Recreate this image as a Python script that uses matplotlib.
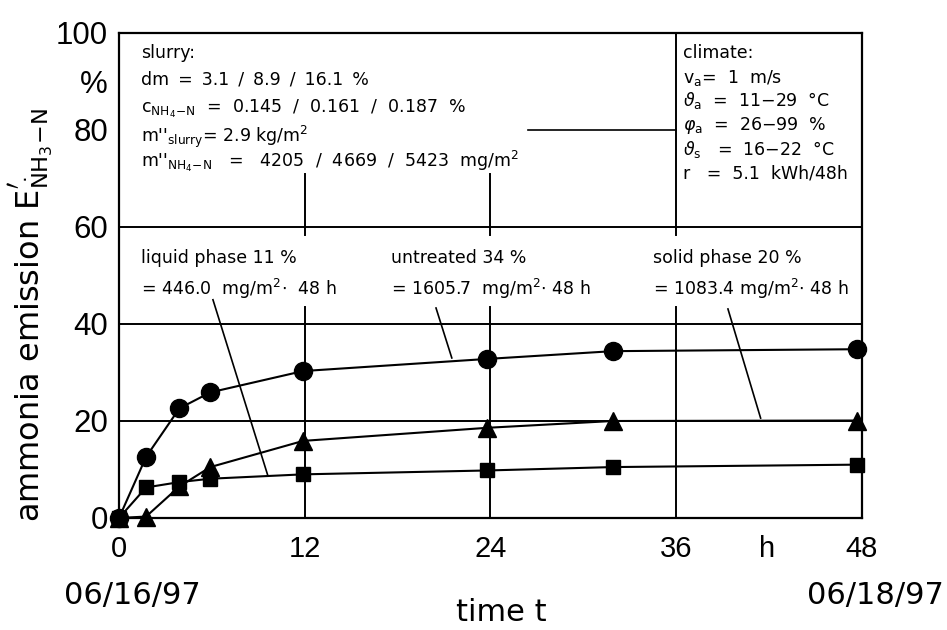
import matplotlib
matplotlib.use('Agg')
import matplotlib.pyplot as plt
from matplotlib.transforms import blended_transform_factory

# ---- data ----
hours = [0, 1.75, 3.9, 5.9, 11.9, 23.8, 31.9, 47.7]
untreated = [0, 12.6, 22.6, 25.9, 30.3, 32.8, 34.4, 34.8]
liquid = [0, 6.3, 7.4, 8.1, 9.0, 9.8, 10.5, 11.0]
solid = [0, 0.3, 6.5, 10.5, 15.9, 18.6, 20.0, 20.1]

x_ticks = [0, 12, 24, 36, 41.85, 48]
x_ticklabels = ['0', '12', '24', '36', 'h', '48']
y_ticks = [0, 20, 40, 60, 80, 90, 100]
y_ticklabels = ['0', '20', '40', '60', '80', '%', '100']

G = " \u2009"  # medium gap used in the reference typesetting
slurry_lines = [
    "slurry:",
    "dm" + G + "=" + G + "3.1" + G + "/" + G + "8.9" + G + "/" + G + "16.1" + G + "%",
    r"c$_{\mathrm{NH_4\!-\!N}}$  =  0.145  /  0.161  /  0.187  %",
    r"m''$_{\mathrm{slurry}}$= 2.9 kg/m$^2$",
    r"m''$_{\mathrm{NH_4\!-\!N}}$   =   4205  /  4669  /  5423  mg/m$^2$",
]
slurry_y = [94.8, 89.3, 83.5, 77.5, 72.4]

climate_lines = [
    "climate:",
    r"v$_{\mathrm{a}}$=  1  m/s",
    r"$\vartheta_{\mathrm{a}}$  =  11−29  °C",
    r"$\varphi_{\mathrm{a}}$  =  26−99  %",
    r"$\vartheta_{\mathrm{s}}$   =  16−22  °C",
    "r   =  5.1  kWh/48h",
]
climate_y = [94.8, 89.7, 85.0, 80.0, 74.8, 70.1]

phase_names = ["liquid phase 11 %", "untreated 34 %", "solid phase 20 %"]
phase_values = [r"= 446.0  mg/m$^2$$\cdot$  48 h",
                r"= 1605.7  mg/m$^2$$\cdot$ 48 h",
                r"= 1083.4 mg/m$^2$$\cdot$ 48 h"]
phase_x = [1.4, 17.6, 34.5]

plt.rcParams['font.family'] = ['DejaVu Sans']
plt.rcParams['mathtext.fontset'] = 'dejavusans'

fig = plt.figure(figsize=(9.47, 6.30), dpi=100)
ax = fig.add_axes([0.12566, 0.17778, 0.78458, 0.76984])
ax.set_xlim(0, 48)
ax.set_ylim(0, 100)

lw_frame = 1.6
for s in ax.spines.values():
    s.set_linewidth(lw_frame)
    s.set_color('black')

# horizontal full lines
for yv in [20, 40, 60]:
    ax.plot([0, 48], [yv, yv], color='black', lw=1.4, zorder=1)
# vertical partial lines
for xv in [12, 24]:
    ax.plot([xv, xv], [0, 43.5], color='black', lw=1.4, zorder=1)
    ax.plot([xv, xv], [58.3, 71.0], color='black', lw=1.4, zorder=1)
ax.plot([36, 36], [0, 43.5], color='black', lw=1.4, zorder=1)
ax.plot([36, 36], [58.3, 100], color='black', lw=1.4, zorder=1)
ax.plot([26.4, 36], [80, 80], color='black', lw=1.2, zorder=1)

# pointer lines
ax.plot([6.07, 9.6], [45.0, 8.9], color='black', lw=1.2, zorder=1)
ax.plot([20.48, 21.5], [43.3, 33.0], color='black', lw=1.2, zorder=1)
ax.plot([39.34, 41.45], [43.1, 20.6], color='black', lw=1.2, zorder=1)

# data series
ax.plot(hours, untreated, color='black', lw=1.5, marker='o', ms=13, clip_on=False, zorder=3)
ax.plot(hours, solid, color='black', lw=1.5, marker='^', ms=13, clip_on=False, zorder=3)
ax.plot(hours, liquid, color='black', lw=1.5, marker='s', ms=9.5, clip_on=False, zorder=3)

# texts
fs_box = 12.5
for t, yv in zip(slurry_lines, slurry_y):
    ax.text(1.45, yv, t, fontsize=fs_box, va='baseline', ha='left')
for t, yv in zip(climate_lines, climate_y):
    ax.text(36.45, yv, t, fontsize=fs_box, va='baseline', ha='left')
for n, v, xv in zip(phase_names, phase_values, phase_x):
    ax.text(xv, 52.6, n, fontsize=fs_box, va='baseline', ha='left')
    ax.text(xv, 46.0, v, fontsize=fs_box, va='baseline', ha='left')

# ticks
ax.set_xticks(x_ticks)
ax.set_xticklabels(x_ticklabels, fontsize=21, family='Liberation Sans')
ax.set_yticks(y_ticks)
ax.set_yticklabels(y_ticklabels, fontsize=22.5, family='Liberation Sans')
ax.tick_params(axis='x', length=0, pad=12)
ax.tick_params(axis='y', length=0, pad=8)

trans = blended_transform_factory(ax.transData, ax.transAxes)
ax.text(0.84, -0.159, "06/16/97", transform=trans, fontsize=22, ha='center', va='center')
ax.text(48.9, -0.159, "06/18/97", transform=trans, fontsize=22, ha='center', va='center')
ax.text(24.7, -0.194, "time t", transform=trans, fontsize=22, ha='center', va='center')

fig.text(0.033, 0.50, r"ammonia emission E$^{\prime}_{\dot{\mathrm{N}}\mathrm{H_3\!-\!N}}$",
         rotation=90, fontsize=23, ha='center', va='center')

fig.savefig('out.png', dpi=100)
